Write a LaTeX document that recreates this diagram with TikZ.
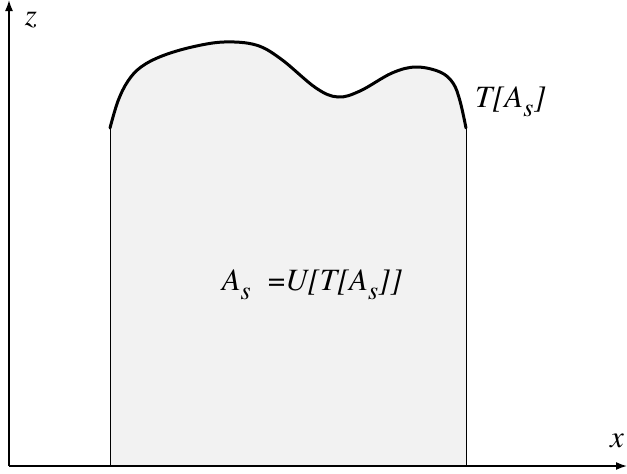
\documentclass[tikz,border=0pt]{standalone}
\usepackage{fontspec}
\setmainfont{TeX Gyre Termes}
\usetikzlibrary{arrows.meta}
\newcommand{\subs}{\raisebox{-0.3em}{\fontsize{26}{26}\selectfont s}}
\begin{document}
\begin{tikzpicture}[x=1pt,y=-1pt,
  axis/.style={line width=1.6pt,-{Latex[length=11pt,width=8pt]}},
  lbl/.style={font=\fontsize{31}{36}\selectfont\itshape, inner sep=0pt},
  boundary/.style={line width=3pt, line cap=round},
  side/.style={line width=0.8pt}]
\useasboundingbox (0,0) rectangle (627,474);
\coordinate (O) at (9,466);
\coordinate (ztop) at (9,0);
\coordinate (xend) at (627,466);
\coordinate (BL) at (110,466);
\coordinate (BR) at (466,466);
\coordinate (TL) at (110,128);
\coordinate (TR) at (466,128);
\def\curvepts{(110,128) (118,101) (128,81) (141,67) (162,56) (192,47) (224,42) (256,45) (281,59) (316,88) (338,97) (360,91) (392,73) (416,67) (440,72) (453,83) (460,101) (466,128)}
\fill[gray!10] (BL) -- plot[smooth, tension=0.6] coordinates {\curvepts} -- (BR) -- cycle;
\draw[side] (BL) -- (TL);
\draw[side] (BR) -- (TR);
\draw[boundary] plot[smooth, tension=0.6] coordinates {\curvepts};
\draw[axis] (O) -- (ztop);
\draw[axis] (O) -- (xend);
\node[lbl] (zl) at (31,20) {z};
\node[lbl] (xl) at (617,441) {x};
\node[lbl, anchor=base west] (tl) at (475,107) {T[A\subs]};
\node[lbl, anchor=base] (eq) at (312,290) {A\subs\hspace{0.55em}{\upshape =}U[T[A\subs]]};
\end{tikzpicture}
\end{document}
